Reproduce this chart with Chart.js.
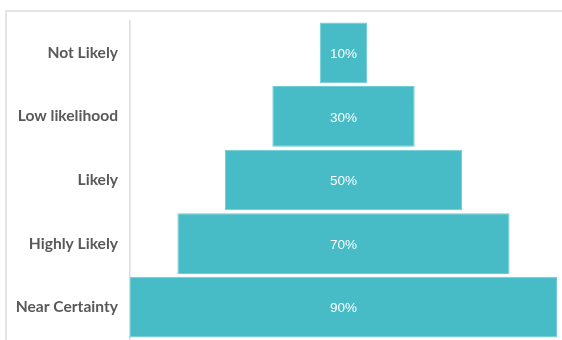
<!DOCTYPE html>
<html>
<head>
<meta charset="utf-8">
<script src="https://cdn.jsdelivr.net/npm/chart.js@4"></script>
<style>
  html, body { margin: 0; padding: 0; background: #ffffff; }
  #wrap { position: relative; width: 562px; height: 340px; overflow: hidden; }
  #frame { position: absolute; left: 5px; top: 10px; width: 600px; height: 400px;
           border-top: 2px solid #e4e4e4; border-left: 2px solid #e4e4e4; box-sizing: border-box; }
  #box { position: absolute; left: 0; top: 0; width: 562px; height: 340px; }
</style>
</head>
<body>
<div id="wrap">
  <div id="frame"></div>
  <div id="box"><canvas id="c"></canvas></div>
</div>
<script>
const categories = ["Not Likely", "Low likelihood", "Likely", "Highly Likely", "Near Certainty"];
const values = [10, 30, 50, 70, 90];
const valueLabels = ["10%", "30%", "50%", "70%", "90%"];
const center = 50;

const barLabels = {
  id: 'barLabels',
  afterDatasetsDraw(chart) {
    const ctx = chart.ctx;
    const meta = chart.getDatasetMeta(0);
    ctx.save();
    ctx.fillStyle = '#ffffff';
    ctx.font = '13.5px "Liberation Sans", Arial, sans-serif';
    ctx.textAlign = 'center';
    ctx.textBaseline = 'middle';
    meta.data.forEach((bar, i) => {
      const p = bar.getProps(['x', 'y', 'base'], true);
      ctx.fillText(valueLabels[i], (p.x + p.base) / 2, p.y + 1.5);
    });
    ctx.restore();
  }
};

new Chart(document.getElementById('c'), {
  type: 'bar',
  data: {
    labels: categories,
    datasets: [{
      data: values.map(v => [center - v / 2, center + v / 2]),
      backgroundColor: '#47bcc6',
      borderColor: '#6ccbd3',
      borderWidth: 1,
      borderSkipped: false,
      barPercentage: 0.955,
      categoryPercentage: 1.0
    }]
  },
  options: {
    indexAxis: 'y',
    responsive: true,
    maintainAspectRatio: false,
    animation: false,
    layout: { padding: { top: 21, right: 5, bottom: 1, left: 0 } },
    plugins: { legend: { display: false }, tooltip: { enabled: false } },
    scales: {
      x: { display: false, min: 5, max: 95 },
      y: {
        afterFit(scale) { scale.width = 130; scale.paddingTop = 0; scale.paddingBottom = 0; },
        grid: { display: false, drawTicks: false },
        border: { display: true, color: '#dcdcdc', width: 1.5 },
        ticks: {
          padding: 12,
          color: '#595959',
          font: { family: 'Lato, "Open Sans", sans-serif', size: 15.6, weight: 'bold' }
        }
      }
    }
  },
  plugins: [barLabels]
});
</script>
</body>
</html>
